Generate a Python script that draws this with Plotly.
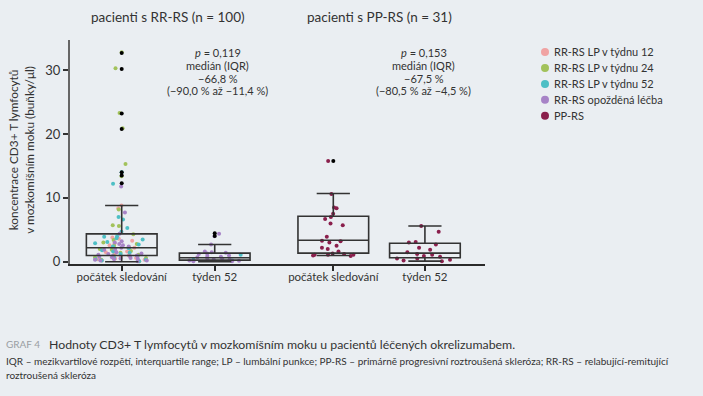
import plotly.graph_objects as go

# ---------------- data ----------------
categories = ["počátek sledování", "týden 52", "počátek sledování", "týden 52"]
cat_pos = [1.0, 2.0, 3.275, 4.26]   # axis positions of the four boxes

# box statistics
q1 = [0.98, 0.25, 1.35, 0.62]
median = [2.19, 0.62, 3.38, 1.35]
q3 = [4.37, 1.35, 7.13, 2.9]
lowerfence = [0.0, 0.0, 0.98, 0.1]
upperfence = [8.8, 2.7, 10.7, 5.6]

# box-plot outliers (black dots on the box centre)
outliers_rr_base = [32.7, 30.2, 23.2, 20.8, 14.0, 13.5, 12.3]
outliers_rr_w52 = [4.45, 4.05]
outliers_pp_base = [15.8]
outliers_pp_w52 = []

# RR-RS baseline, by sub-group
rr_base_w12 = [8.8, 8.4, 3.8, 3.6, 3.3, 2.9, 2.6, 2.2, 1.8, 1.6, 1.5, 1.2, 1.0, 0.8, 0.6, 0.5, 0.4, 0.3, 0.2, 0.1]
rr_base_w24 = [32.8, 30.3, 23.3, 20.9, 15.3, 13.4, 8.2, 5.7, 5.6, 4.3, 3.4, 3.0, 2.8, 2.5, 2.3, 2.0, 1.9,
               1.7, 1.4, 1.1, 0.9, 0.7, 0.6, 0.3, 0.1]
rr_base_w52 = [14.0, 12.2, 7.0, 6.6, 5.3, 4.7, 4.0, 3.9, 3.7, 3.5, 3.1, 2.9, 2.7, 2.4, 2.1, 1.8, 1.6,
               1.4, 1.2, 0.9, 0.6, 0.4, 0.3, 0.2, 0.1]
rr_base_delayed = [11.8, 7.7, 4.4, 3.2, 3.0, 2.8, 2.6, 2.4, 2.2, 2.0, 1.9, 1.5, 1.3, 1.2, 1.1, 1.0, 0.9,
                   0.9, 0.8, 0.7, 0.6, 0.5, 0.5, 0.4, 0.3, 0.2, 0.2, 0.1]

# RR-RS week 52
rr_w52_w52 = [1.1, 0.3, 0.2]
rr_w52_delayed = [4.4, 4.0, 2.7, 1.6, 1.5, 1.4, 1.3, 1.2, 1.0, 0.9, 0.8, 0.7, 0.6, 0.5, 0.4, 0.35,
                  0.3, 0.2, 0.15, 0.1, 0.1]

# PP-RS
pp_base = [15.8, 10.6, 8.5, 8.4, 7.5, 7.0, 6.7, 6.0, 5.7, 3.9, 3.3, 3.2, 3.0, 2.5, 2.2, 2.0, 1.6,
           1.3, 1.2, 1.1, 1.1, 1.1, 1.0, 0.9]
pp_w52 = [5.6, 4.7, 3.1, 3.0, 2.7, 2.2, 1.9, 1.5, 1.2, 1.1, 0.9, 0.8, 0.5, 0.5, 0.3, 0.2, 0.1]

series_names = ["RR-RS LP v týdnu 12", "RR-RS LP v týdnu 24", "RR-RS LP v týdnu 52",
                "RR-RS opožděná léčba", "PP-RS"]
colors = ["#f0a3a3", "#a2c25b", "#4dbfc5", "#a783c7", "#8a1f4c"]

point_sets = [  # (series index, category index, values)
    (0, 0, rr_base_w12), (1, 0, rr_base_w24), (2, 0, rr_base_w52), (3, 0, rr_base_delayed),
    (2, 1, rr_w52_w52), (3, 1, rr_w52_delayed),
    (4, 2, pp_base), (4, 3, pp_w52),
]
outlier_sets = [outliers_rr_base, outliers_rr_w52, outliers_pp_base, outliers_pp_w52]

FONT = "Lato"
TXT = "#333333"
BG = "#eaeef2"

ML, MT, PW, PH = 70, 40, 415, 224.5   # plot area in pixels


def px_x(p):
    return (p - ML) / PW


def px_y(p):
    return (MT + PH - p) / PH


fig = go.Figure()

# jittered points
for si, ci, vals in point_sets:
    fig.add_trace(go.Box(
        x=[cat_pos[ci]] * len(vals), y=vals,
        boxpoints="all", jitter=1.0, pointpos=0, width=0.72,
        marker=dict(color=colors[si], size=4),
        line=dict(width=0, color="rgba(0,0,0,0)"), fillcolor="rgba(0,0,0,0)",
        showlegend=False, hoveron="points", name=series_names[si],
    ))

# box outlines
fig.add_trace(go.Box(
    x=cat_pos, q1=q1, median=median, q3=q3,
    lowerfence=lowerfence, upperfence=upperfence,
    width=0.76, whiskerwidth=0.47, boxpoints=False,
    line=dict(color="#333333", width=1.6), fillcolor="rgba(0,0,0,0)",
    showlegend=False, name="box",
))

# outliers
ox, oy = [], []
for ci, vals in enumerate(outlier_sets):
    ox += [cat_pos[ci]] * len(vals)
    oy += vals
fig.add_trace(go.Scatter(x=ox, y=oy, mode="markers", marker=dict(color="black", size=4),
                         showlegend=False, cliponaxis=False))

# legend (drawn manually for the tight 16 px row spacing)
leg_y0, leg_dy = 52, 16
for i, (name, c) in enumerate(zip(series_names, colors)):
    yy = px_y(leg_y0 + i * leg_dy)
    fig.add_shape(type="circle", xref="paper", yref="paper", xsizemode="pixel", ysizemode="pixel",
                  xanchor=px_x(545), yanchor=yy, x0=-4, x1=4, y0=-4, y1=4,
                  fillcolor=c, line=dict(width=0))
    fig.add_annotation(x=px_x(552), y=yy, xref="paper", yref="paper", text=name, showarrow=False,
                       font=dict(family=FONT, size=11, color=TXT), xanchor="left", yanchor="middle")

# statistics annotations
stats_text = [
    ["<i>p</i> = 0,119", "medián (IQR)", "−66,8 %", "(−90,0 % až −11,4 %)"],
    ["<i>p</i> = 0,153", "medián (IQR)", "−67,5 %", "(−80,5 % až −4,5 %)"],
]
stats_x = [2.035, 4.25]
line_y = [32.7, 30.75, 28.7, 26.75]
for sx, lines in zip(stats_x, stats_text):
    for ly, t in zip(line_y, lines):
        fig.add_annotation(x=sx, y=ly, xref="x", yref="y", text=t, showarrow=False,
                           font=dict(family=FONT, size=11, color=TXT), xanchor="center", yanchor="middle")

group_titles = ["pacienti s RR-RS (n = 100)", "pacienti s PP-RS (n = 31)"]
group_x = [1.5, 3.77]
for gx, gt in zip(group_x, group_titles):
    fig.add_annotation(x=gx, y=px_y(17), xref="x", yref="paper", text=gt, showarrow=False,
                       font=dict(family=FONT, size=13.5, color=TXT), xanchor="center", yanchor="middle")

fig.add_annotation(x=px_x(21), y=px_y(150), xref="paper", yref="paper", textangle=-90,
                   text="koncentrace CD3+ T lymfocytů<br>v mozkomíšním moku (buňky/μl)",
                   showarrow=False, font=dict(family=FONT, size=11.8, color=TXT),
                   xanchor="center", yanchor="middle")

# caption
fig.add_annotation(x=px_x(4), y=px_y(345), xref="paper", yref="paper", text="GRAF 4",
                   showarrow=False, font=dict(family=FONT, size=10, color="#9a9ea3"),
                   xanchor="left", yanchor="middle")
fig.add_annotation(x=px_x(47), y=px_y(345), xref="paper", yref="paper",
                   text="Hodnoty CD3+ T lymfocytů v mozkomíšním moku u pacientů léčených okrelizumabem.",
                   showarrow=False, font=dict(family=FONT, size=12.3, color=TXT),
                   xanchor="left", yanchor="middle")
fig.add_annotation(x=px_x(4), y=px_y(362), xref="paper", yref="paper",
                   text="IQR – mezikvartilové rozpětí, interquartile range; LP – lumbální punkce; PP-RS – primárně progresivní roztroušená skleróza; RR-RS – relabující-remitující",
                   showarrow=False, font=dict(family=FONT, size=10, color=TXT),
                   xanchor="left", yanchor="middle")
fig.add_annotation(x=px_x(4), y=px_y(376), xref="paper", yref="paper",
                   text="roztroušená skleróza",
                   showarrow=False, font=dict(family=FONT, size=10, color=TXT),
                   xanchor="left", yanchor="middle")

fig.update_layout(
    width=703, height=396,
    margin=dict(l=ML, r=703 - ML - PW, t=MT, b=396 - MT - PH),
    paper_bgcolor=BG, plot_bgcolor=BG,
    boxmode="overlay",
    showlegend=False,
    font=dict(family=FONT, size=12, color=TXT),
    xaxis=dict(range=[0.444, 4.906], tickmode="array", tickvals=cat_pos, ticktext=categories,
               showgrid=False, zeroline=False, showline=True, linecolor="#2a2a2a", linewidth=1.5,
               ticks="outside", ticklen=5, tickwidth=2, tickcolor="#2a2a2a",
               ticklabelstandoff=-4,
               tickfont=dict(family=FONT, size=11.5, color=TXT)),
    yaxis=dict(range=[-0.35, 34.73], tickvals=[0, 10, 20, 30], showgrid=False, zeroline=False,
               showline=True, linecolor="#666666", linewidth=2,
               ticks="outside", ticklen=5, tickwidth=2, tickcolor="#333333",
               tickfont=dict(family=FONT, size=13, color=TXT)),
)

fig.write_html("out.html", config={"displayModeBar": False},
               post_script="document.body.style.margin='0';document.body.style.background='#eaeef2';")
